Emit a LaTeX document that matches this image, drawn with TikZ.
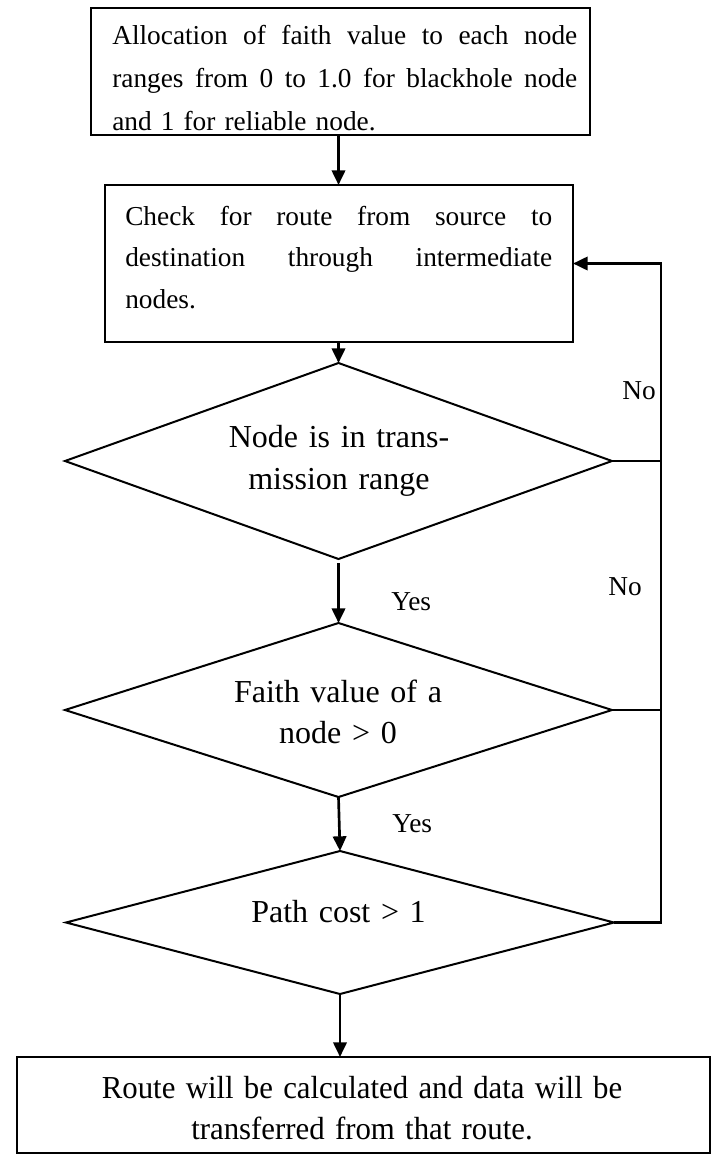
\documentclass[tikz,border=0pt]{standalone}
\usepackage{fontspec}
\setmainfont{Liberation Serif}
\usetikzlibrary{shapes.geometric,arrows.meta}
\begin{document}
\begin{tikzpicture}[x=0.75pt,y=-0.75pt,
  box/.style={draw,line width=1.6pt,inner sep=0,outer sep=0},
  dia/.style={draw,diamond,line width=1.5pt,inner sep=0,outer sep=0},
  boxtxt/.style={inner sep=0,anchor=base west,align=left,font=\fontsize{20.5pt}{32pt}\selectfont},
  ctxt/.style={inner sep=0,anchor=base,align=center,text width=400pt,font=\fontsize{24pt}{32pt}\selectfont},
  lbl/.style={inner sep=0,anchor=base west,font=\fontsize{20.5pt}{24pt}\selectfont},
  arr/.style={line width=2pt,-{Triangle[length=11pt,width=10pt]}},
  ln/.style={line width=2pt}
]
\useasboundingbox (0,0) rectangle (713,1156);

% boxes and decisions
\node[box,minimum width=374.25pt,minimum height=95.25pt] (b1) at (340.5,71.5) {};
\node[box,minimum width=351pt,minimum height=117.75pt] (b2) at (339,263.5) {};
\node[dia,minimum width=410.25pt,minimum height=147pt] (d1) at (338.5,461) {};
\node[dia,minimum width=410.25pt,minimum height=130.5pt] (d2) at (338.5,710) {};
\node[dia,minimum width=411pt,minimum height=107.25pt] (d3) at (340,922.5) {};
\node[box,minimum width=519.75pt,minimum height=72pt] (b3) at (363.5,1105) {};

% texts
\node[boxtxt,text width=348.75pt] (t1) at (112,45) {\leavevmode\hbox to 348.75pt{Allocation\hfil of\hfil faith\hfil value\hfil to\hfil each\hfil node}\\\leavevmode\hbox to 348.75pt{ranges\hfil from\hfil 0\hfil to\hfil 1.0\hfil for\hfil blackhole\hfil node}\\and 1 for reliable node.};
\node[boxtxt,text width=320.25pt,font=\fontsize{20.5pt}{31.25pt}\selectfont] (t2) at (125,225) {\leavevmode\hbox to 320.25pt{Check\hfil for\hfil route\hfil from\hfil source\hfil to}\\\leavevmode\hbox to 320.25pt{destination\hfil through\hfil intermediate}\\nodes.};
\node[ctxt] (td1) at (339,447) {Node is in trans-\\mission range};
\node[ctxt,font=\fontsize{24pt}{30.75pt}\selectfont] (td2) at (338,702) {Faith value of a\\node > 0};
\node[ctxt] (td3) at (338.5,922) {Path cost > 1};
\node[ctxt,text width=500pt,font=\fontsize{24pt}{31pt}\selectfont] (t3) at (362,1098) {\scalebox{0.963}[1]{Route will be calculated and data will be}\\\scalebox{0.963}[1]{transferred from that route.}};

% labels
\node[lbl] (no1) at (622,399) {No};
\node[lbl] (no2) at (608,595) {No};
\node[lbl] (yes1) at (391,610) {Yes};
\node[lbl] (yes2) at (392,832) {Yes};

% connectors
\coordinate (L) at (661,263.5);
\draw[arr] (b1.south -| d1.north) -- (b2.north -| d1.north);
\draw[arr] (b2.south -| d1.north) -- (d1.north);
\draw[arr] ([yshift=-3pt]d1.south) -- (d2.north);
\draw[arr] (d2.south) -- (d3.north);
\draw[arr] (d3.south) -- (b3.north -| d3.south);
\draw[ln] (d1.east) -- (d1.east -| L);
\draw[ln] (d2.east) -- (d2.east -| L);
\draw[arr] (d3.east) -- (d3.east -| L) -- (L) -- (b2.east);
\end{tikzpicture}
\end{document}
